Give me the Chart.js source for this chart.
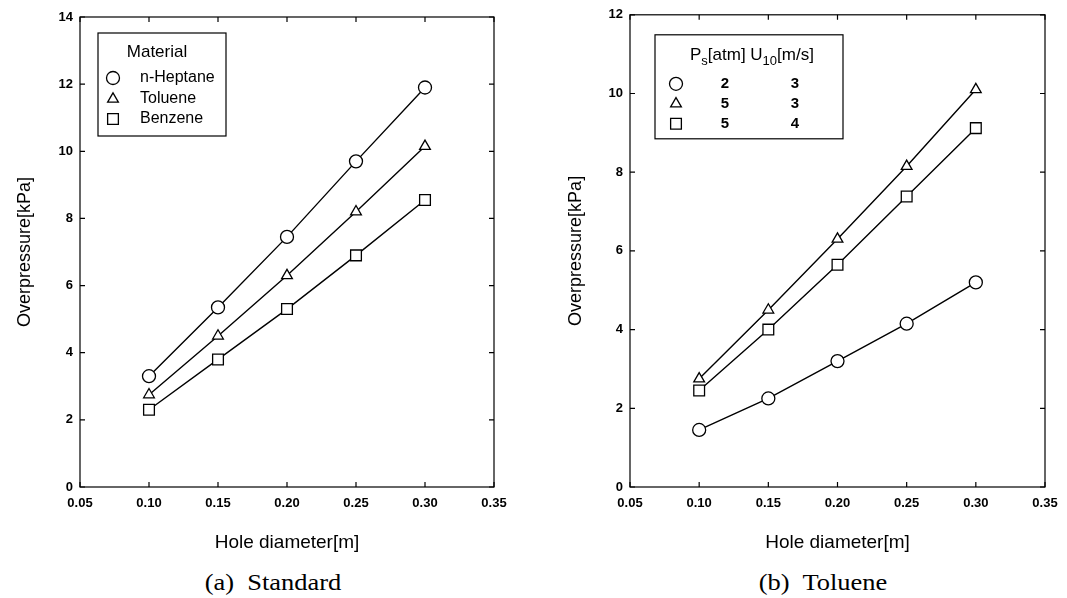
<!DOCTYPE html>
<html>
<head>
<meta charset="utf-8">
<script src="https://cdn.jsdelivr.net/npm/chart.js@4.4.0/dist/chart.umd.min.js"></script>
<style>
  body { margin: 0; background: #fff; width: 1067px; height: 598px; position: relative; overflow: hidden; }
  .box { position: absolute; top: 0; height: 560px; }
  .cap { position: absolute; top: 570px; font: 23px "Liberation Serif", serif; color: #000; transform: translateX(-50%) scaleX(1.15); white-space: pre; }
</style>
</head>
<body>
<div class="box" style="left:0;width:533px"><canvas id="chartA"></canvas></div>
<div class="box" style="left:533px;width:534px"><canvas id="chartB"></canvas></div>
<div class="cap" style="left:273px">(a)  Standard</div>
<div class="cap" style="left:823px">(b)  Toluene</div>
<script>
// x values shared by both panels
const holeDiameters = [0.10, 0.15, 0.20, 0.25, 0.30];

// (a) Standard - by material
const heptane = [3.3, 5.35, 7.45, 9.7, 11.9];
const toluene = [2.75, 4.5, 6.3, 8.2, 10.15];
const benzene = [2.3, 3.8, 5.3, 6.9, 8.55];

// (b) Toluene - by storage pressure / wind speed
const ps2u3 = [1.45, 2.25, 3.2, 4.15, 5.2];
const ps5u3 = [2.75, 4.5, 6.3, 8.15, 10.1];
const ps5u4 = [2.45, 4.0, 5.65, 7.38, 9.12];

const FONT = '"Liberation Sans", Arial, sans-serif';

function pts(ys) {
  return holeDiameters.map((x, i) => ({ x: x, y: ys[i] }));
}

function series(label, ys, style, r) {
  return {
    label: label,
    data: pts(ys),
    showLine: true,
    borderColor: '#000',
    borderWidth: 1.4,
    pointStyle: style,
    pointRadius: r,
    pointBackgroundColor: '#fff',
    pointBorderColor: '#000',
    pointBorderWidth: 1.3
  };
}

// frame round the plot + inward tick marks on all four sides
const frameTicks = {
  id: 'frameTicks',
  beforeDatasetsDraw(chart) {
    const { ctx, chartArea: a, scales } = chart;
    const len = 5;
    ctx.save();
    ctx.strokeStyle = '#000';
    ctx.lineWidth = 1.2;
    ctx.strokeRect(a.left, a.top, a.right - a.left, a.bottom - a.top);
    ctx.beginPath();
    scales.x.ticks.forEach(t => {
      const px = scales.x.getPixelForValue(t.value);
      ctx.moveTo(px, a.bottom); ctx.lineTo(px, a.bottom - len);
      ctx.moveTo(px, a.top); ctx.lineTo(px, a.top + len);
    });
    scales.y.ticks.forEach(t => {
      const py = scales.y.getPixelForValue(t.value);
      ctx.moveTo(a.left, py); ctx.lineTo(a.left + len, py);
      ctx.moveTo(a.right, py); ctx.lineTo(a.right - len, py);
    });
    ctx.stroke();
    ctx.restore();
  }
};

// boxed legend drawn inside the plot area
const boxLegend = {
  id: 'boxLegend',
  afterDatasetsDraw(chart, args, opts) {
    const { ctx, chartArea: a } = chart;
    const x0 = a.left + opts.x, y0 = a.top + opts.y;
    ctx.save();
    ctx.fillStyle = '#fff';
    ctx.fillRect(x0, y0, opts.w, opts.h);
    ctx.strokeStyle = '#000';
    ctx.lineWidth = 1.2;
    ctx.strokeRect(x0, y0, opts.w, opts.h);
    ctx.fillStyle = '#000';
    ctx.textBaseline = 'middle';

    // header, with optional subscripts
    const headFont = s => (s.sub ? '13px ' : '17px ') + FONT;
    let hx = x0 + opts.headX;
    if (opts.headAlign === 'center') {
      let w = 0;
      opts.header.forEach(s => {
        ctx.font = headFont(s);
        w += ctx.measureText(s.t).width;
      });
      hx -= w / 2;
    }
    ctx.textAlign = 'left';
    opts.header.forEach(s => {
      ctx.font = headFont(s);
      ctx.fillText(s.t, hx, y0 + opts.headY + (s.sub ? 6 : 0));
      hx += ctx.measureText(s.t).width;
    });

    // rows
    chart.data.datasets.forEach((ds, i) => {
      const ry = y0 + opts.rowY[i];
      ctx.fillStyle = '#fff';
      ctx.strokeStyle = '#000';
      ctx.lineWidth = 1.3;
      Chart.helpers.drawPoint(ctx, {
        pointStyle: ds.pointStyle, radius: ds.pointRadius, borderWidth: 1.3
      }, x0 + opts.symX, ry);
      ctx.fillStyle = '#000';
      ctx.font = opts.rowFont + FONT;
      opts.cols.forEach((c, k) => {
        ctx.textAlign = c.align;
        ctx.fillText(opts.texts[i][k], x0 + c.x, ry);
      });
    });
    ctx.restore();
  }
};

function makeOptions(yMax, titlePadY, xTitlePad, layoutPad, yWidth, legend) {
  return {
    responsive: true,
    maintainAspectRatio: false,
    animation: false,
    layout: { padding: layoutPad },
    plugins: {
      legend: { display: false },
      tooltip: { enabled: false },
      boxLegend: legend
    },
    scales: {
      x: {
        type: 'linear',
        min: 0.05,
        max: 0.35,
        grid: { display: false, drawTicks: false },
        border: { display: false },
        ticks: {
          stepSize: 0.05,
          padding: 9,
          color: '#000',
          font: { family: FONT, size: 13, weight: 'bold' },
          callback: v => v.toFixed(2)
        },
        title: {
          display: true,
          text: 'Hole diameter[m]',
          color: '#000',
          font: { family: FONT, size: 19 },
          padding: { top: 4, bottom: xTitlePad }
        },
        afterFit: s => { s.height = 73; }
      },
      y: {
        min: 0,
        max: yMax,
        grid: { display: false, drawTicks: false },
        border: { display: false },
        ticks: {
          stepSize: 2,
          padding: 7,
          color: '#000',
          font: { family: FONT, size: 13, weight: 'bold' }
        },
        title: {
          display: true,
          text: 'Overpressure[kPa]',
          color: '#000',
          font: { family: FONT, size: 18 },
          padding: { top: titlePadY, bottom: 0 }
        },
        afterFit: s => { s.width = yWidth; }
      }
    }
  };
}

new Chart(document.getElementById('chartA'), {
  type: 'scatter',
  data: {
    datasets: [
      series('n-Heptane', heptane, 'circle', 6.5),
      series('Toluene', toluene, 'triangle', 6.2),
      series('Benzene', benzene, 'rect', 7.6)
    ]
  },
  options: makeOptions(14, 14, 6, { left: 0, top: 17, right: 39, bottom: 0 }, 80, {
    x: 18, y: 16, w: 128, h: 103,
    header: [{ t: 'Material' }], headX: 59, headY: 19, headAlign: 'center',
    rowY: [45, 66, 86], symX: 15, rowFont: '16px ',
    cols: [{ x: 42, align: 'left' }],
    texts: [['n-Heptane'], ['Toluene'], ['Benzene']]
  }),
  plugins: [frameTicks, boxLegend]
});

new Chart(document.getElementById('chartB'), {
  type: 'scatter',
  data: {
    datasets: [
      series('Ps 2, U10 3', ps2u3, 'circle', 6.5),
      series('Ps 5, U10 3', ps5u3, 'triangle', 6.2),
      series('Ps 5, U10 4', ps5u4, 'rect', 7.6)
    ]
  },
  options: makeOptions(12, 32, 6, { left: 0, top: 13, right: 22, bottom: 0 }, 97, {
    x: 25, y: 20, w: 188, h: 104,
    header: [{ t: 'P' }, { t: 's', sub: true }, { t: '[atm] U' }, { t: '10', sub: true }, { t: '[m/s]' }],
    headX: 35, headY: 21, headAlign: 'left',
    rowY: [49, 69, 89], symX: 21, rowFont: 'bold 15px ',
    cols: [{ x: 70, align: 'center' }, { x: 140, align: 'center' }],
    texts: [['2', '3'], ['5', '3'], ['5', '4']]
  }),
  plugins: [frameTicks, boxLegend]
});
</script>
</body>
</html>
